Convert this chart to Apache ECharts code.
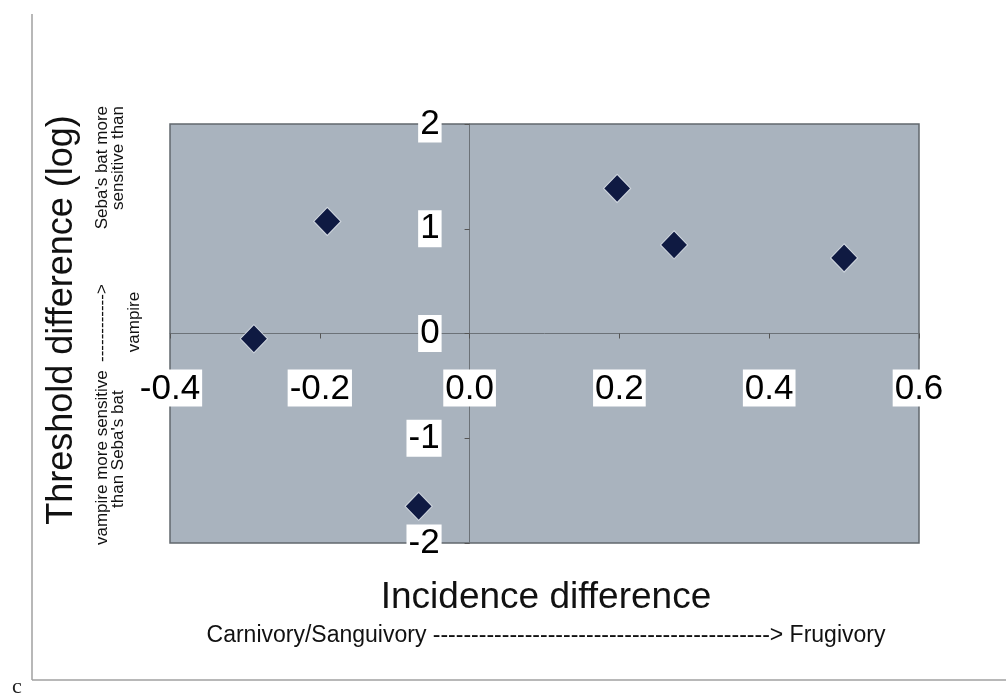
<!DOCTYPE html>
<html>
<head>
<meta charset="utf-8">
<script src="https://cdn.jsdelivr.net/npm/echarts@6/dist/echarts.min.js"></script>
<style>
  html, body { margin: 0; padding: 0; background: #fff; }
  #chart { width: 1006px; height: 696px; }
</style>
</head>
<body>
<div id="chart"></div>
<script>
// Incidence difference (x) vs. threshold difference in log units (y)
const incidenceDiff = [-0.288, -0.19, -0.068, 0.197, 0.273, 0.50];
const thresholdDiff = [-0.05, 1.07, -1.65, 1.385, 0.846, 0.721];

const xTicks = { min: -0.4, max: 0.6, step: 0.2 };
const yTicks = { min: -2, max: 2, step: 1 };

const points = incidenceDiff.map((x, i) => [x, thresholdDiff[i]]);

// plot box in pixels; the axes cross inside it at (0, 0)
const box = { left: 170, top: 124, width: 749, height: 419 };
const zeroX = box.left + box.width * (0 - xTicks.min) / (xTicks.max - xTicks.min);
const zeroY = box.top + box.height * (yTicks.max - 0) / (yTicks.max - yTicks.min);

const font = 'Arial, "Liberation Sans", Helvetica, sans-serif';
const labelBox = {
  color: '#000',
  fontFamily: font,
  fontSize: 35,
  backgroundColor: '#fff',
  padding: [2, 2, 0, 2]
};

const note = (text, x, y, align) => ({
  type: 'text', x: x, y: y, rotation: Math.PI / 2,
  style: { text: text, font: '17px ' + font, fill: '#111',
           textAlign: align, textVerticalAlign: 'middle' }
});

const chart = echarts.init(document.getElementById('chart'));
chart.setOption({
  animation: false,
  backgroundColor: '#fff',
  grid: {
    left: box.left, top: box.top, width: box.width, height: box.height,
    show: true,
    backgroundColor: '#a9b3be',
    borderColor: '#62686e',
    borderWidth: 1.5
  },
  xAxis: {
    type: 'value',
    min: xTicks.min, max: xTicks.max, interval: xTicks.step,
    offset: -(box.top + box.height - zeroY),
    splitLine: { show: false },
    axisLine: { onZero: false, lineStyle: { color: '#6c7278', width: 1 } },
    axisTick: { show: true, length: 5, lineStyle: { color: '#555' } },
    axisLabel: Object.assign({}, labelBox, {
      margin: 36,
      showMinLabel: true, showMaxLabel: true,
      formatter: v => v.toFixed(1)
    })
  },
  yAxis: {
    type: 'value',
    min: yTicks.min, max: yTicks.max, interval: yTicks.step,
    offset: -(zeroX - box.left),
    splitLine: { show: false },
    axisLine: { onZero: false, lineStyle: { color: '#6c7278', width: 1 } },
    axisTick: { show: true, length: 5, lineStyle: { color: '#555' } },
    axisLabel: Object.assign({}, labelBox, {
      margin: 28,
      showMinLabel: true, showMaxLabel: true
    })
  },
  graphic: [
    // page frame
    { type: 'line', silent: true,
      shape: { x1: 32, y1: 14, x2: 32, y2: 680 },
      style: { stroke: '#a0a0a0', lineWidth: 1.5 } },
    { type: 'line', silent: true,
      shape: { x1: 32, y1: 680, x2: 1006, y2: 680 },
      style: { stroke: '#a0a0a0', lineWidth: 1.5 } },
    { type: 'text', x: 12, y: 676,
      style: { text: 'c', font: '22px "Liberation Serif", "DejaVu Serif", serif', fill: '#222' } },
    // axis titles
    { type: 'text', x: 546, y: 598,
      style: { text: 'Incidence difference', font: '37px ' + font, fill: '#111',
               textAlign: 'center', textVerticalAlign: 'middle' } },
    { type: 'text', x: 546, y: 636,
      style: { text: 'Carnivory/Sanguivory ' + '-'.repeat(44) + '> Frugivory',
               font: '23px ' + font, fill: '#111',
               textAlign: 'center', textVerticalAlign: 'middle' } },
    { type: 'text', x: 62, y: 320, rotation: Math.PI / 2,
      style: { text: 'Threshold difference (log)', font: '36px ' + font, fill: '#111',
               textAlign: 'center', textVerticalAlign: 'middle' } },
    // direction notes beside the y title
    note('vampire more sensitive', 102, 545, 'left'),
    note('-'.repeat(12) + '>', 102, 362, 'left'),
    note("Seba's bat more", 102, 106, 'right'),
    note("than Seba's bat", 118, 508, 'left'),
    note('sensitive than', 118, 106, 'right'),
    note('vampire', 134, 322, 'center')
  ],
  series: [{
    type: 'scatter',
    data: points,
    symbol: 'diamond',
    symbolSize: [27, 28],
    itemStyle: { color: '#0f1a42', opacity: 1,
                 borderColor: 'rgba(235,240,245,0.8)', borderWidth: 1 }
  }]
});
</script>
</body>
</html>
